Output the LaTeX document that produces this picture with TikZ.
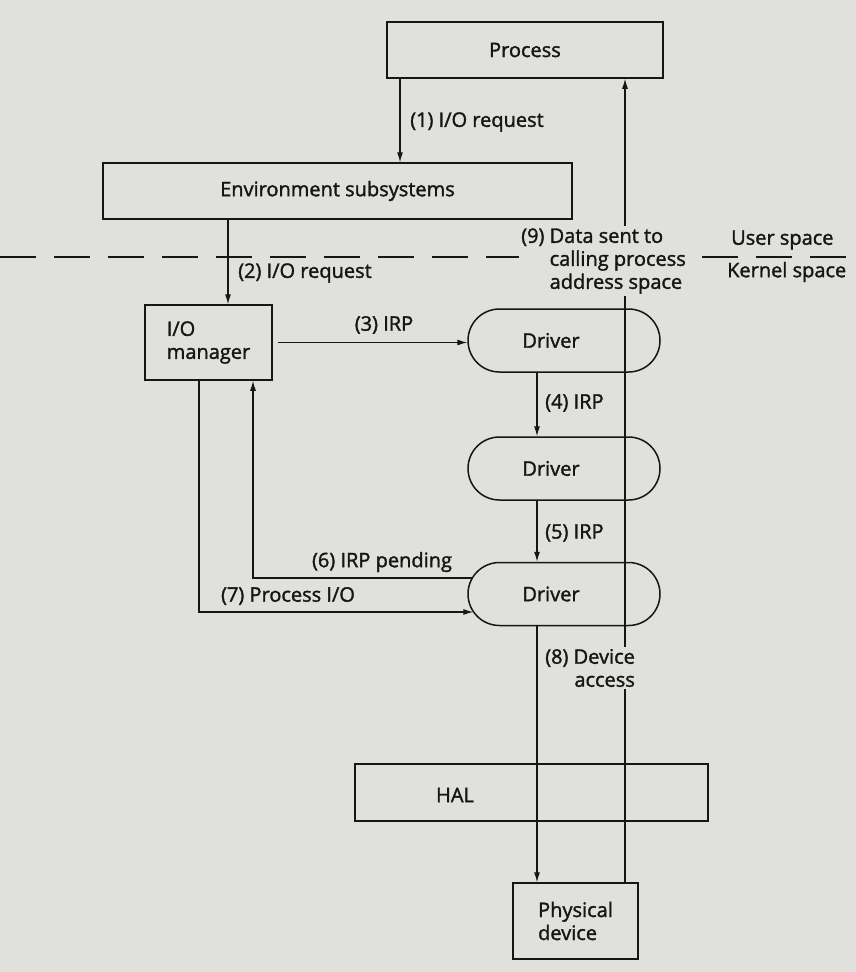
\documentclass[tikz,border=0pt]{standalone}
\usepackage{fontspec}
\setmainfont{Open Sans}
\newfontfamily\medfont{Open Sans}[FakeBold=1.6]
\usetikzlibrary{arrows.meta,calc}
\definecolor{paper}{RGB}{224,224,221}
\definecolor{ink}{RGB}{22,22,22}
\begin{document}
\begin{tikzpicture}[x=1pt,y=-1pt,
  every node/.style={font=\medfont\fontsize{20}{23}\selectfont, text=ink},
  box/.style={draw=ink, line width=1.5pt, inner sep=0pt},
  drv/.style={draw=ink, line width=1.5pt, rounded corners=31.5pt, minimum width=192pt, minimum height=63pt},
  arr/.style={draw=ink, line width=1.1pt, -{Latex[length=10pt,width=6pt]}},
  lab/.style={inner sep=2pt, align=left},
  divider/.style={draw=ink, line width=1.5pt, dash pattern=on 36pt off 18pt}]
\fill[paper] (0,0) rectangle (856,972);
\useasboundingbox (0,0) rectangle (856,972);

% boxes
\node[box, minimum width=276pt, minimum height=56pt] (proc) at (525,50) {Process};
\node[box, minimum width=469pt, minimum height=56pt] (env) at (337.5,191) {Environment subsystems};
\node[box, minimum width=127pt, minimum height=75pt, align=left] (iom) at (208.5,342.5) {I/O\\manager};
\node[drv, label={[xshift=-13pt]center:Driver}] (d1) at (564,340.5) {};
\node[drv, label={[xshift=-13pt]center:Driver}] (d2) at (564,468.5) {};
\node[drv, label={[xshift=-13pt]center:Driver}] (d3) at (564,594) {};
\node[box, minimum width=353pt, minimum height=57pt] (hal) at (531.5,792.5) {};
\node (haltxt) at (455,795) {HAL};
\node[box, minimum width=125pt, minimum height=76pt, align=left] (phys) at (575.5,921) {Physical\\device};

% user / kernel divider
\draw[divider] (0,257) -- (856,257);

% connectors
\draw[arr] (proc.south -| 400,0) -- (env.north -| 400,0);
\draw[arr] (env.south -| 228,0) -- (iom.north -| 228,0);
\draw[arr] ([xshift=5pt]iom.east) -- (iom.east -| d1.west);
\draw[arr] (d1.south -| 537,0) -- (d2.north -| 537,0);
\draw[arr] (d2.south -| 537,0) -- (d3.north -| 537,0);
\draw[arr] ($(d3.west)+(4.5,-16)$) -| (253,0 |- iom.south);
\draw[arr] (199,0 |- iom.south) |- ($(d3.west)+(6,18)$);
\draw[arr] (d3.south -| 537,0) -- (phys.north -| 537,0);
\draw[arr] (phys.north -| 625,0) -- (proc.south -| 625,0);

% labels
\node[lab, anchor=west] (l1) at (408,122) {(1) I/O request};
\node[lab, anchor=west] (l2) at (236,273) {(2) I/O request};
\node[lab] (l3) at (384,325) {(3) IRP};
\node[lab, anchor=west] (l4) at (543,403) {(4) IRP};
\node[lab, anchor=west] (l5) at (543,533) {(5) IRP};
\node[lab] (l6) at (382,562) {(6) IRP pending};
\node[lab] (l7) at (288,596) {(7) Process I/O};
\node[lab, anchor=west, align=right, fill=paper] (l8) at (543,668) {(8) Device\\access};
\node[lab, anchor=west, fill=paper] (l9) at (519,261) {(9) Data sent to\\\phantom{(9)~}calling process\\\phantom{(9)~}address space};
\node[lab, anchor=west] (us) at (729,240) {User space};
\node[lab, anchor=west] (ks) at (725,272) {Kernel space};
\end{tikzpicture}
\end{document}
